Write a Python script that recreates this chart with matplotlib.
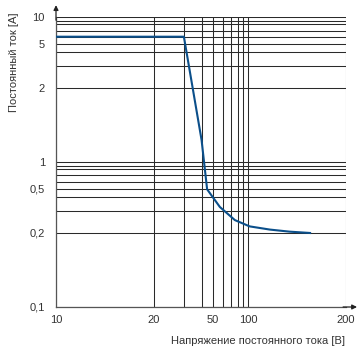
import numpy as np
import matplotlib
matplotlib.use("Agg")
import matplotlib.pyplot as plt

plt.rcParams['font.family'] = ['Liberation Sans', 'DejaVu Sans']

# ---- data ----
voltage = [10, 30, 40, 44.5, 56.8, 76, 101, 116.6, 134, 155]
current = [6, 6, 1.23, 0.49, 0.327, 0.254, 0.226, 0.213, 0.205, 0.2]

x_grid = [10, 20, 30, 40, 50, 60, 70, 80, 90, 100, 200]
x_ticks = [10, 20, 50, 100, 200]
x_ticklabels = ["10", "20", "50", "100", "200"]

y_grid = [0.1, 0.2, 0.3, 0.4, 0.5, 0.6, 0.7, 0.8, 0.9,
          1, 2, 3, 4, 5, 6, 7, 8, 9, 10]
y_ticks = [0.1, 0.2, 0.5, 1, 2, 5, 10]
y_ticklabels = ["0,1", "0,2", "0,5", "1", "2", "5", "10"]

xlabel = "Напряжение постоянного тока [В]"
ylabel = "Постоянный ток [A]"

# ---- non-uniform (hand-drawn) scales, as laid out in the original sheet ----
x_pos = [0, 0.338, 0.441, 0.502, 0.542, 0.575, 0.602, 0.626, 0.646, 0.663, 1.0]
dec_frac = [0, 0.511, 0.662, 0.757, 0.818, 0.866, 0.908, 0.951, 0.976, 1.0]
y_pos = [0.5 * f for f in dec_frac[:-1]] + [0.5 + 0.5 * f for f in dec_frac]

lx = np.log10(x_grid)
ly = np.log10(y_grid)


def xf(v):
    v = np.clip(np.asarray(v, float), 1e-9, None)
    return np.interp(np.log10(v), lx, x_pos)


def xi(p):
    return 10 ** np.interp(np.asarray(p, float), x_pos, lx)


def yf(v):
    v = np.clip(np.asarray(v, float), 1e-9, None)
    return np.interp(np.log10(v), ly, y_pos)


def yi(p):
    return 10 ** np.interp(np.asarray(p, float), y_pos, ly)


W, H = 357, 354
fs = 8
fig = plt.figure(figsize=(W / 100, H / 100), dpi=100)
ax = fig.add_axes([56 / W, 1 - 307 / H, 290 / W, 289.7 / H])
ax.set_xscale('function', functions=(xf, xi))
ax.set_yscale('function', functions=(yf, yi))
ax.set_xlim(10, 200)
ax.set_ylim(0.1, 10)

gc = '#2a2a2a'
for xv in x_grid:
    ax.axvline(xv, color=gc, lw=0.75, zorder=1)
for yv in y_grid:
    ax.axhline(yv, color=gc, lw=0.75, zorder=1)

ax.plot(voltage, current, color='#0b4f8a', lw=1.5, zorder=3,
        solid_joinstyle='round')

ax.set_xticks(x_ticks)
ax.set_xticklabels(x_ticklabels)
ax.set_xticks([], minor=True)
ax.set_yticks(y_ticks)
ax.set_yticklabels(y_ticklabels)
ax.set_yticks([], minor=True)
ax.tick_params(axis='both', length=0, labelsize=fs, colors='#333333')
ax.tick_params(axis='x', pad=6)
ax.tick_params(axis='y', pad=8)

for s in ['top', 'right']:
    ax.spines[s].set_visible(False)
for s in ['left', 'bottom']:
    ax.spines[s].set_color('#555555')
    ax.spines[s].set_linewidth(0.9)

ax.annotate('', xy=(1.038, 0), xytext=(0.99, 0), xycoords='axes fraction',
            arrowprops=dict(arrowstyle='-|>', color='#222222', lw=0.9,
                            mutation_scale=7, shrinkA=0, shrinkB=0),
            annotation_clip=False)
ax.annotate('', xy=(0, 1.042), xytext=(0, 0.99), xycoords='axes fraction',
            arrowprops=dict(arrowstyle='-|>', color='#222222', lw=0.9,
                            mutation_scale=7, shrinkA=0, shrinkB=0),
            annotation_clip=False)

fig.text(345 / W, 1 - 340.7 / H, xlabel, ha='right', va='center',
         fontsize=fs, color='#333333')
fig.text(14 / W, 1 - 13 / H, ylabel, ha='center', va='top', rotation=90,
         fontsize=fs, color='#333333')

fig.savefig('out.png', dpi=100)
